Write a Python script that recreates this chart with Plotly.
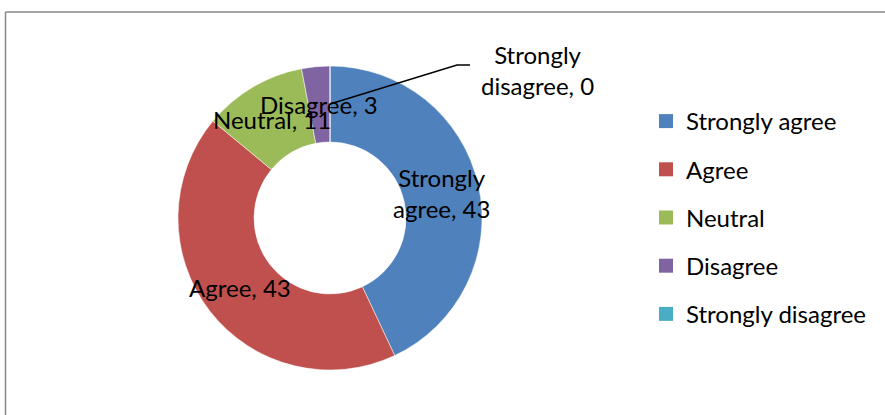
import math
import plotly.graph_objects as go

# data
categories = ["Strongly agree", "Agree", "Neutral", "Disagree", "Strongly disagree"]
label_text = ["Strongly<br>agree", "Agree", "Neutral", "Disagree", "Strongly<br>disagree"]
values = [43, 43, 11, 3, 0]
colors = ["#4F81BD", "#C0504D", "#9BBB59", "#8064A2", "#4BACC6"]

W, H = 885, 415
FONT = "Lato, Calibri, Arial, sans-serif"
FS = 24

# donut geometry in pixels
cx, cy, R = 330, 218, 152
hole = 0.5


def px2paper(x, y):
    return x / W, 1 - y / H


fig = go.Figure()

x0, y1 = px2paper(cx - R, cy - R)
x1, y0 = px2paper(cx + R, cy + R)
fig.add_trace(go.Pie(
    labels=categories,
    values=values,
    hole=hole,
    sort=False,
    direction="clockwise",
    rotation=0,
    marker=dict(colors=colors, line=dict(color="white", width=0.5)),
    textinfo="none",
    hoverinfo="label+value",
    showlegend=False,
    domain=dict(x=[x0, x1], y=[y0, y1]),
))

# legend via empty marker traces so items can be spaced apart
for i, (name, col) in enumerate(zip(categories, colors)):
    fig.add_trace(go.Scatter(
        x=[None], y=[None], mode="markers", name=name,
        marker=dict(symbol="square", size=14, color=col),
        legendgroup=str(i), showlegend=True,
    ))

# data labels at ring midpoint
total = sum(values)
r_mid = R * (1 + hole) / 2
cum = 0
annotations = []
for name, txt, v in zip(categories, label_text, values):
    mid = (cum + v / 2) / total * 2 * math.pi
    cum += v
    px = cx + r_mid * math.sin(mid)
    py = cy - r_mid * math.cos(mid)
    if v > 0:
        ax, ay = px2paper(px, py)
    else:
        # leader line for empty slice
        ex, ey = px + 127, py - 39
        fx = ex + 13
        pts = [px2paper(px, py), px2paper(ex, ey), px2paper(fx, ey)]
        path = "M {} {} L {} {} L {} {}".format(*[c for p in pts for c in p])
        fig.add_shape(type="path", path=path, xref="paper", yref="paper",
                      line=dict(color="black", width=1.5))
        ax, ay = px2paper(fx + 67, ey + 5)
    annotations.append(dict(
        x=ax, y=ay, xref="paper", yref="paper",
        text=f"{txt}, {v}", showarrow=False,
        font=dict(family=FONT, size=FS, color="black"),
        xanchor="center", yanchor="middle", align="center",
    ))

# chart frame (only left and top edges visible)
fl, ft = px2paper(5.5, 12)
fig.add_shape(type="line", xref="paper", yref="paper", x0=fl, x1=fl, y0=0, y1=ft,
              line=dict(color="#868686", width=1.5))
fig.add_shape(type="line", xref="paper", yref="paper", x0=fl, x1=1, y0=ft, y1=ft,
              line=dict(color="#868686", width=1.5))

lx, ly = px2paper(646, 99)
fig.update_layout(
    width=W, height=H,
    margin=dict(l=0, r=0, t=0, b=0),
    paper_bgcolor="white",
    plot_bgcolor="white",
    xaxis=dict(visible=False),
    yaxis=dict(visible=False),
    annotations=annotations,
    legend=dict(
        x=lx, y=ly, xanchor="left", yanchor="top",
        font=dict(family=FONT, size=FS, color="black"),
        tracegroupgap=14,
        bgcolor="rgba(0,0,0,0)",
    ),
    font=dict(family=FONT),
)

fig.write_html("out.html", config={"displayModeBar": False},
               post_script="document.body.style.margin='0';")
